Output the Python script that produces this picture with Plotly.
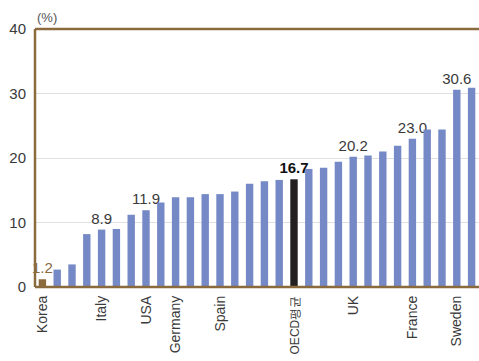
import plotly.graph_objects as go

# Share of each country, sorted ascending (%)
values = [1.2, 2.7, 3.5, 8.2, 8.9, 9.0, 11.2, 11.9, 13.1, 13.9,
          13.9, 14.4, 14.4, 14.8, 16.0, 16.4, 16.6, 16.7, 18.3, 18.5,
          19.4, 20.2, 20.4, 21.0, 21.9, 23.0, 24.4, 24.4, 30.6, 30.9]

# Named categories shown on the x axis (index -> label)
label_idx = [0, 4, 7, 9, 12, 17, 21, 25, 28]
label_names = ["Korea", "Italy", "USA", "Germany", "Spain",
               "OECD평균", "UK", "France", "Sweden"]

# Bars whose value is printed above them
value_label_idx = [0, 4, 7, 17, 21, 25, 28]

KOREA = 0
OECD = 17
BLUE = "#7489c6"
BROWN = "#8b6b3e"
BLACK = "#231f20"

x = list(range(len(values)))
colors = [BLUE] * len(values)
colors[KOREA] = BROWN
colors[OECD] = BLACK

texts = [""] * len(values)
text_colors = ["#3a3a3a"] * len(values)
for i in value_label_idx:
    texts[i] = f"{values[i]:.1f}"
texts[OECD] = f"<b>{values[OECD]:.1f}</b>"
text_colors[KOREA] = BROWN
text_colors[OECD] = "#111111"

# the long average label is set a touch smaller so it stays on the page
tick_text = [
    f"<span style='font-size:12px'>{n}</span>" if i == OECD else n
    for i, n in zip(label_idx, label_names)
]

fig = go.Figure(
    go.Bar(
        x=x,
        y=values,
        marker=dict(color=colors, line=dict(width=0)),
        text=texts,
        textposition="outside",
        constraintext="none",
        textfont=dict(size=15, color=text_colors, family="Liberation Sans"),
        cliponaxis=False,
        hoverinfo="skip",
    )
)

frame = dict(color=BROWN, width=2.5)

fig.update_layout(
    width=479,
    height=361,
    margin=dict(l=35, r=0, t=29, b=74, autoexpand=False),
    paper_bgcolor="white",
    plot_bgcolor="white",
    bargap=0.5,
    showlegend=False,
    font=dict(family="Liberation Sans", size=14, color="#3a3a3a"),
    xaxis=dict(
        range=[-0.5, len(values) - 0.5],
        tickmode="array",
        tickvals=label_idx,
        ticktext=tick_text,
        tickangle=-90,
        tickfont=dict(size=14, color="#3a3a3a"),
        showline=False,
        showgrid=False,
        ticks="",
        ticklabelstandoff=5,
        zeroline=False,
        automargin=False,
    ),
    yaxis=dict(
        range=[0, 40],
        tickvals=[0, 10, 20, 30, 40],
        tickfont=dict(size=15, color="#3a3a3a"),
        showline=False,
        showgrid=True,
        gridcolor="#e0e0e0",
        gridwidth=1,
        zeroline=False,
        ticks="",
        ticklabelstandoff=8,
        automargin=False,
    ),
    shapes=[
        # open frame: top, left and bottom edges of the plotting area
        dict(type="line", xref="paper", yref="paper",
             x0=0, x1=1, y0=1, y1=1, line=frame),
        dict(type="line", xref="paper", yref="paper",
             x0=0, x1=0, y0=0, y1=1, line=frame),
        dict(type="line", xref="paper", yref="paper",
             x0=0, x1=1, y0=0, y1=0, line=frame),
    ],
    annotations=[
        dict(
            text="(%)",
            xref="paper",
            yref="paper",
            x=0.0,
            y=1.0,
            xanchor="left",
            yanchor="bottom",
            yshift=2,
            showarrow=False,
            font=dict(size=13, color="#555555"),
        )
    ],
)

fig.write_html("out.html")
